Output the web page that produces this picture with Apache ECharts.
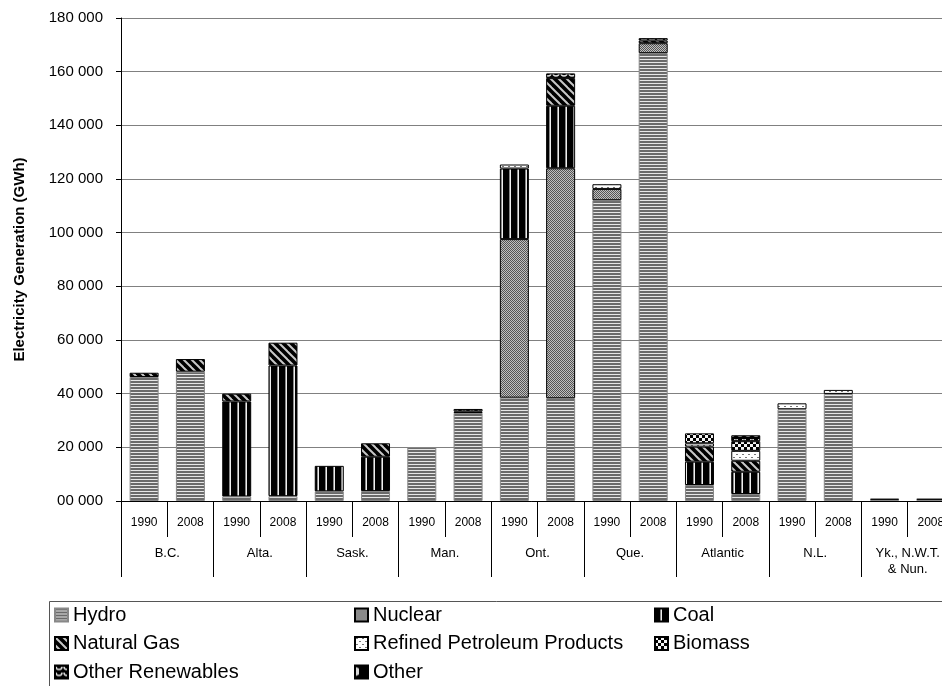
<!DOCTYPE html>
<html><head><meta charset="utf-8">
<script src="https://cdn.jsdelivr.net/npm/echarts@6/dist/echarts.min.js"></script>
<style>html,body{margin:0;padding:0;background:#fff}#c{width:942px;height:686px}</style>
</head><body><div id="c"></div>
<script>
// ---- data (GWh) ----
const years = ['1990','2008','1990','2008','1990','2008','1990','2008','1990','2008','1990','2008','1990','2008','1990','2008','1990','2008'];
const regions = ['B.C.','Alta.','Sask.','Man.','Ont.','Que.','Atlantic','N.L.','Yk., N.W.T.\n& Nun.'];
const yTickValues = [0,20000,40000,60000,80000,100000,120000,140000,160000,180000];
//                 BC90  BC08  Al90  Al08  Sk90  Sk08  Mb90  Mb08  On90  On08  Qc90   Qc08   At90 At08 NL90  NL08  Yk90 Yk08
const hydro     = [46200,48200,1700, 1800, 3600, 3700, 20100,32800,38500,38300,112100,166900,5960,2600,34200,39900,500, 500];
const nuclear   = [0,    0,    0,    0,    0,    0,    0,    0,    59100,85700,4200,  3700,  0,   0,   0,    0,    0,   0];
const coal      = [0,    0,    35400,48700,9500, 12800,0,    0,    26300,23300,0,     0,     8700,8300,0,    0,    0,   0];
const naturalGas= [1600, 4700, 2900, 8500, 0,    5000, 0,    600,  0,    10300,0,     1000,  5600,4100,0,    0,    0,   0];
const refined   = [0,    0,    0,    0,    0,    0,    0,    0,    1500, 0,    1750,  0,     1250,3700,2200, 1500, 300, 300];
const biomass   = [0,    0,    0,    0,    0,    0,    0,    0,    0,    0,    0,     0,     3700,3600,0,    0,    0,   0];
const otherRen  = [0,    0,    0,    0,    0,    0,    0,    900,  0,    1750, 0,     900,   0,   2200,0,    0,    0,   0];
const other     = [0,    0,    0,    0,    0,    0,    0,    0,    0,    0,    0,     0,     0,   0,   0,    0,    0,   0];

// ---- patterns ----
function pat(w,h,draw){const c=document.createElement('canvas');c.width=w;c.height=h;const g=c.getContext('2d');draw(g,w,h);return {image:c,repeat:'repeat'};}
const P = {
  hydro: pat(4,3,(g)=>{g.fillStyle='#6a6a6a';g.fillRect(0,0,4,2);g.fillStyle='#e6e6e6';g.fillRect(0,2,4,1);}),
  nuclear: pat(2,2,(g)=>{g.fillStyle='#c0c0c0';g.fillRect(0,0,2,2);g.fillStyle='#555';g.fillRect(0,0,1,1);g.fillRect(1,1,1,1);}),
  coal: pat(8,4,(g)=>{g.fillStyle='#000';g.fillRect(0,0,8,4);g.fillStyle='#888';g.fillRect(5,0,1,4);g.fillStyle='#eee';g.fillRect(6,0,1,4);}),
  gas: pat(8,8,(g)=>{g.fillStyle='#000';g.fillRect(0,0,8,8);g.strokeStyle='#c8c8c8';g.lineWidth=2;
        [[-2,-2,10,10],[-8,0,8,16],[0,-8,16,8]].forEach(l=>{g.beginPath();g.moveTo(l[0],l[1]);g.lineTo(l[2],l[3]);g.stroke();});}),
  refined: pat(6,6,(g)=>{g.fillStyle='#fff';g.fillRect(0,0,6,6);g.fillStyle='#777';g.fillRect(1,1,2,1);g.fillRect(4,4,2,1);}),
  biomass: pat(6,6,(g)=>{g.fillStyle='#000';g.fillRect(0,0,6,6);g.fillStyle='#f4f4f4';g.fillRect(0,0,3,3);g.fillRect(3,3,3,3);}),
  otherRen: pat(8,6,(g)=>{g.fillStyle='#000';g.fillRect(0,0,8,6);g.strokeStyle='#e0e0e0';g.lineWidth=1.5;g.beginPath();g.arc(4,1,3,0,Math.PI);g.stroke();}),
  other: pat(12,12,(g)=>{g.fillStyle='#000';g.fillRect(0,0,12,12);g.fillStyle='#d8d8d8';g.beginPath();g.moveTo(0,1);g.lineTo(4,3);g.lineTo(4,9);g.lineTo(0,11);g.closePath();g.fill();})
};

const FONT = "'Liberation Sans', Arial, sans-serif";
const defs = [
  ['Hydro', hydro, P.hydro, '#888'],
  ['Nuclear', nuclear, P.nuclear, '#000'],
  ['Coal', coal, P.coal, '#000'],
  ['Natural Gas', naturalGas, P.gas, '#000'],
  ['Refined Petroleum Products', refined, P.refined, '#000'],
  ['Biomass', biomass, P.biomass, '#000'],
  ['Other Renewables', otherRen, P.otherRen, '#000'],
  ['Other', other, P.other, '#000']
];
const series = defs.map(d => ({
  name: d[0], type: 'bar', stack: 'total', barWidth: 29,
  data: d[1].map(v => v === 0 ? '-' : v),
  itemStyle: { color: d[2], borderColor: d[3], borderWidth: 1 },
  emphasis: { disabled: true }
}));

const legendBase = {
  orient: 'vertical', top: 605, padding: 0, itemWidth: 13, itemHeight: 13, itemGap: 8.5,
  textStyle: { fontFamily: FONT, fontSize: 20, color: '#000', lineHeight: 20 },
  icon: 'rect', selectedMode: false
};

const chart = echarts.init(document.getElementById('c'), null, { renderer: 'canvas' });
chart.setOption({
  animation: false,
  backgroundColor: '#fff',
  aria: { enabled: false },
  grid: { left: 121, top: 18, width: 833, height: 483, outerBoundsMode: 'none', containLabel: false },
  xAxis: [
    { type: 'category', data: years, position: 'bottom',
      axisLine: { show: true, lineStyle: { color: '#000', width: 1 } },
      axisTick: { show: true, interval: 0, length: 36, lineStyle: { color: '#000' } },
      axisLabel: { interval: 0, margin: 16, fontFamily: FONT, fontSize: 12, color: '#000' } },
    { type: 'category', data: regions, position: 'bottom',
      axisLine: { show: false },
      axisTick: { show: true, interval: 0, length: 76, lineStyle: { color: '#000' } },
      axisLabel: { interval: 0, margin: 44, fontFamily: FONT, fontSize: 13, lineHeight: 16, color: '#000' } }
  ],
  yAxis: {
    type: 'value', min: 0, max: 180000, interval: 20000,
    name: 'Electricity Generation (GWh)', nameLocation: 'middle', nameGap: 94,
    nameTextStyle: { fontFamily: FONT, fontSize: 15, fontWeight: 'bold', color: '#000' },
    axisLine: { show: true, lineStyle: { color: '#000', width: 1 } },
    axisTick: { show: true, length: 5, lineStyle: { color: '#000' } },
    splitLine: { show: true, lineStyle: { color: '#808080', width: 1 } },
    axisLabel: { margin: 18, fontFamily: FONT, fontSize: 15, color: '#000',
      formatter: v => String(Math.round(v / 1000)).padStart(2, '0') + ' 000' }
  },
  legend: [
    Object.assign({}, legendBase, { left: 54, data: ['Hydro', 'Natural Gas', 'Other Renewables'] }),
    Object.assign({}, legendBase, { left: 354, data: ['Nuclear', 'Refined Petroleum Products', 'Other'] }),
    Object.assign({}, legendBase, { left: 654, data: ['Coal', 'Biomass'] })
  ],
  graphic: [
    { type: 'rect', left: 47, top: 599, shape: { width: 1000, height: 200 },
      style: { fill: 'none', stroke: '#555', lineWidth: 1 }, silent: true }
  ],
  series: series
});
</script></body></html>
